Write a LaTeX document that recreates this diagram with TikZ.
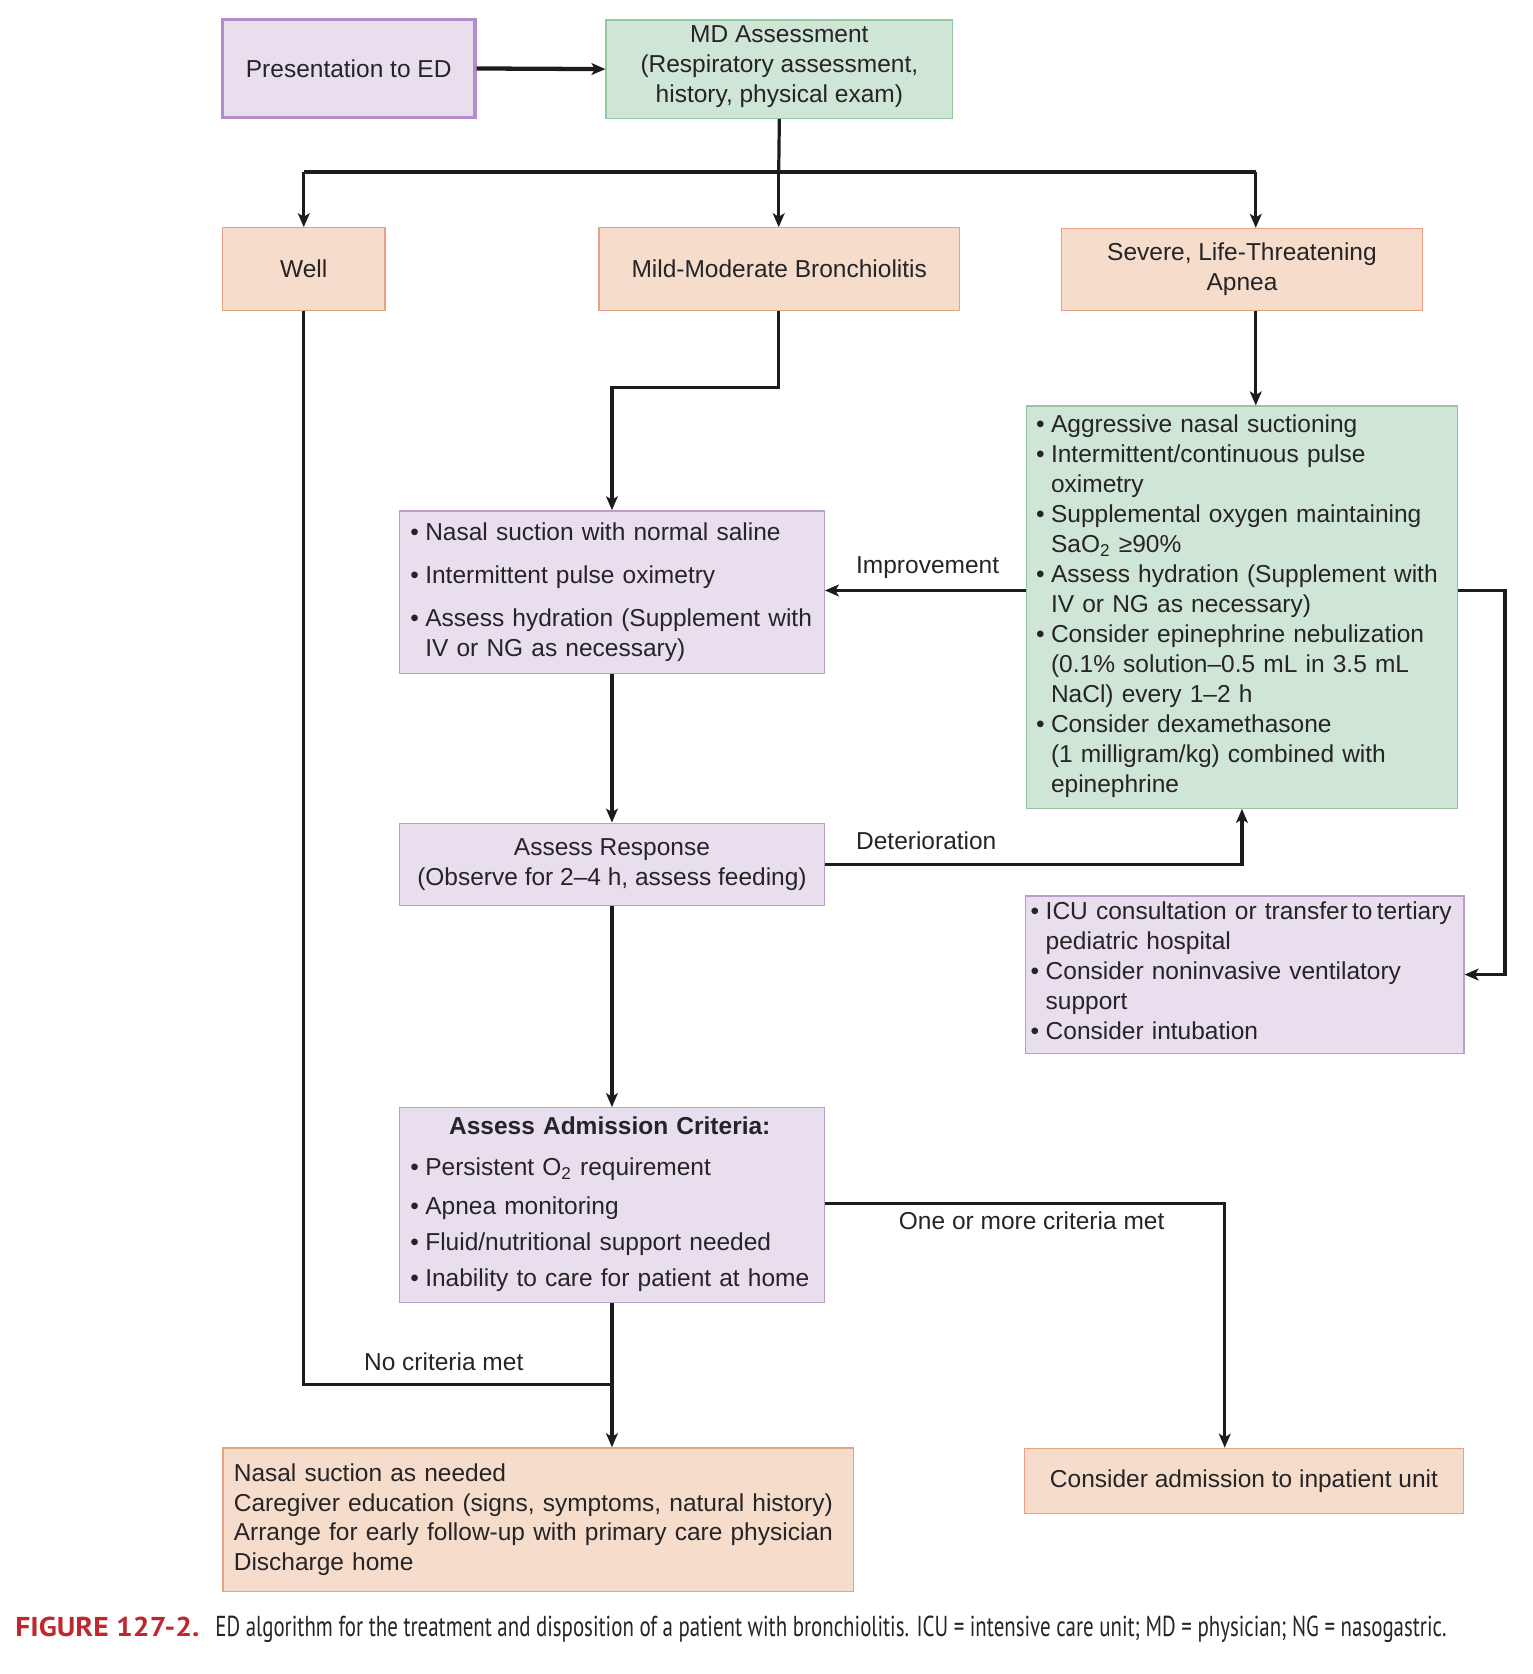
\documentclass[tikz,border=0pt]{standalone}
\usepackage{graphicx}
\usepackage{fontspec}
\setmainfont{Liberation Sans}
\newfontfamily\capfont{PT Sans}
\usetikzlibrary{arrows.meta}
\definecolor{txt}{RGB}{38,36,38}
\definecolor{lc}{RGB}{28,28,28}
\definecolor{pfill}{RGB}{232,222,237}
\definecolor{pline}{RGB}{185,158,200}
\definecolor{pthick}{RGB}{180,140,203}
\definecolor{gfill}{RGB}{207,229,214}
\definecolor{gline}{RGB}{147,198,161}
\definecolor{ofill}{RGB}{245,220,203}
\definecolor{oline}{RGB}{230,161,134}
\definecolor{capred}{RGB}{190,38,48}
\begin{document}
\begin{tikzpicture}[x=0.5pt,y=-0.5pt,
  base/.style={draw, font=\fontsize{11.45}{14}\selectfont, text=txt, line width=0.6pt, inner sep=0pt},
  pbox/.style={base, fill=pfill, draw=pline},
  gbox/.style={base, fill=gfill, draw=gline},
  obox/.style={base, fill=ofill, draw=oline},
  lbl/.style={font=\fontsize{11.45}{14}\selectfont, text=txt, inner sep=0pt, anchor=base west},
  wire/.style={line width=1.5pt, draw=lc},
  arr/.style={wire, -{Stealth[length=6.5pt,width=5.5pt,inset=1.6pt]}}
]
\useasboundingbox (0,0) rectangle (1433,1565);

% top row
\node[pbox, draw=pthick, line width=1.5pt, minimum width=118pt, minimum height=46pt] (pres) at (326,64) {Presentation to ED};
\node[gbox, anchor=north west, minimum width=162pt] (md) at (566,18)
  {\begin{tabular}{@{}c@{}}\noalign{\vskip0.7pt}MD Assessment\\(Respiratory assessment,\\history, physical exam)\\[3.3pt]\end{tabular}};

% second row
\node[obox, minimum width=76pt, minimum height=38.5pt] (well) at (284,251.5) {Well};
\node[obox, minimum width=168.5pt, minimum height=38.5pt] (mild) at (728.5,251.5) {Mild-Moderate Bronchiolitis};
\node[obox, anchor=north west, minimum width=168.5pt] (severe) at (992,213)
  {\begin{tabular}{@{}c@{}}\noalign{\vskip5.2pt}Severe, Life-Threatening\\Apnea\\[5.3pt]\end{tabular}};

% green treatment box
\node[gbox, anchor=north west, inner xsep=4.5pt, text width=192.5pt, align=left] (green) at (959,379)
  {\begin{tabular}{@{}l@{\hspace{3pt}}l@{}}\noalign{\vskip2.7pt}
  •&Aggressive nasal suctioning\\
  •&Intermittent/continuous pulse\\
   &oximetry\\
  •&Supplemental oxygen maintaining\\
   &SaO\textsubscript{2} ≥90\%\\
  •&Assess hydration (Supplement with\\
   &IV or NG as necessary)\\
  •&Consider epinephrine nebulization\\
   &(0.1\% solution–0.5 mL in 3.5 mL\\
   &NaCl) every 1–2 h\\
  •&Consider dexamethasone\\
   &(1 milligram/kg) combined with\\
   &epinephrine\\[3.3pt]
  \end{tabular}};

% nasal suction box
\node[pbox, anchor=north west, inner xsep=5pt, text width=188.5pt, align=left] (nasal) at (373,477)
  {\begin{tabular}{@{}l@{\hspace{3pt}}l@{}}\noalign{\vskip4.2pt}
  •&Nasal suction with normal saline\\[6pt]
  •&Intermittent pulse oximetry\\[6pt]
  •&Assess hydration (Supplement with\\
   &IV or NG as necessary)\\[3.8pt]
  \end{tabular}};

% assess response
\node[pbox, anchor=north west, minimum width=198.5pt] (resp) at (373,769)
  {\begin{tabular}{@{}c@{}}\noalign{\vskip5.2pt}Assess Response\\(Observe for 2–4 h, assess feeding)\\[5.3pt]\end{tabular}};

% ICU box
\node[pbox, anchor=north west, inner xsep=2.5pt, text width=200pt, align=left] (icu) at (958,837)
  {\begin{tabular}{@{}l@{\hspace{3pt}}l@{}}\noalign{\vskip1.2pt}
  •&ICU consultation or transfer\hspace{2pt}to\hspace{2pt}tertiary\\
   &pediatric hospital\\
  •&Consider noninvasive ventilatory\\
   &support\\
  •&Consider intubation\\[2.3pt]
  \end{tabular}};

% admission criteria
\node[pbox, anchor=north west, inner xsep=5pt, text width=188.5pt, align=left] (adm) at (373,1035)
  {\begin{tabular}{@{}l@{\hspace{3pt}}l@{}}\noalign{\vskip2.7pt}
  \multicolumn{2}{c}{\bfseries Assess Admission Criteria:}\\[5pt]
  •&Persistent O\textsubscript{2} requirement\\[4.5pt]
  •&Apnea monitoring\\[2.5pt]
  •&Fluid/nutritional support needed\\[3pt]
  •&Inability to care for patient at home\\[3.3pt]
  \end{tabular}};

% discharge
\node[obox, anchor=north west, inner xsep=5pt, text width=284.5pt, align=left] (dis) at (208,1353)
  {\begin{tabular}{@{}l@{}}\noalign{\vskip5.7pt}
  Nasal suction as needed\\
  Caregiver education (signs, symptoms, natural history)\\
  Arrange for early follow-up with primary care physician\\
  Discharge home\\[5.5pt]
  \end{tabular}};

% consider admission
\node[obox, minimum width=205pt, minimum height=30.5pt] (cadm) at (1163,1384.5) {Consider admission to inpatient unit};

% connectors
\coordinate (bL) at (284,161);
\coordinate (bM) at (728,161);
\coordinate (bR) at (1174,161);
\draw[arr, line width=2pt] (pres.east) -- (md.west);
\draw[wire] (md.south) -- (bM);
\draw[wire, line width=2pt] (bL) -- (bR);
\draw[arr] (bL) -- (well.north);
\draw[arr] (bM) -- (bM |- mild.north);
\draw[arr] (bR) -- (bR |- severe.north);
\draw[arr] (bR |- severe.south) -- (bR |- green.north);
\draw[arr] (bM |- mild.south) -- (728,362) -| (nasal.north);
\draw[arr] (green.west |- 0,552) -- (nasal.east |- 0,552);
\node[lbl] (limp) at (800,536) {Improvement};
\draw[arr] (nasal.south) -- (resp.north);
\draw[arr] (resp.east) -| (green.south);
\node[lbl] (ldet) at (800,794) {Deterioration};
\draw[arr] (green.east |- 0,552) -- (1407,552) |- (icu.east);
\draw[arr] (resp.south) -- (adm.north);
\draw[arr] (adm.east |- 0,1125) -| (cadm.north -| 1145,0);
\node[lbl] (lone) at (840,1149) {One or more criteria met};
\draw[arr] (adm.south) -- (adm.south |- dis.north);
\draw[wire] (well.south) |- (adm.south |- 0,1294);
\node[lbl] (lno) at (340,1281) {No criteria met};

% caption
\node[anchor=base west, inner sep=0pt] (cap) at (14,1530)
  {\resizebox{86pt}{9.1pt}{\capfont\bfseries\color{capred}FIGURE 127-2.}\hspace{7.5pt}%
   \resizebox{575.5pt}{9.6pt}{\capfont\color{txt}ED algorithm for the treatment and disposition of a patient with bronchiolitis. ICU = intensive care unit; MD = physician; NG = nasogastric.}};
\end{tikzpicture}
\end{document}
